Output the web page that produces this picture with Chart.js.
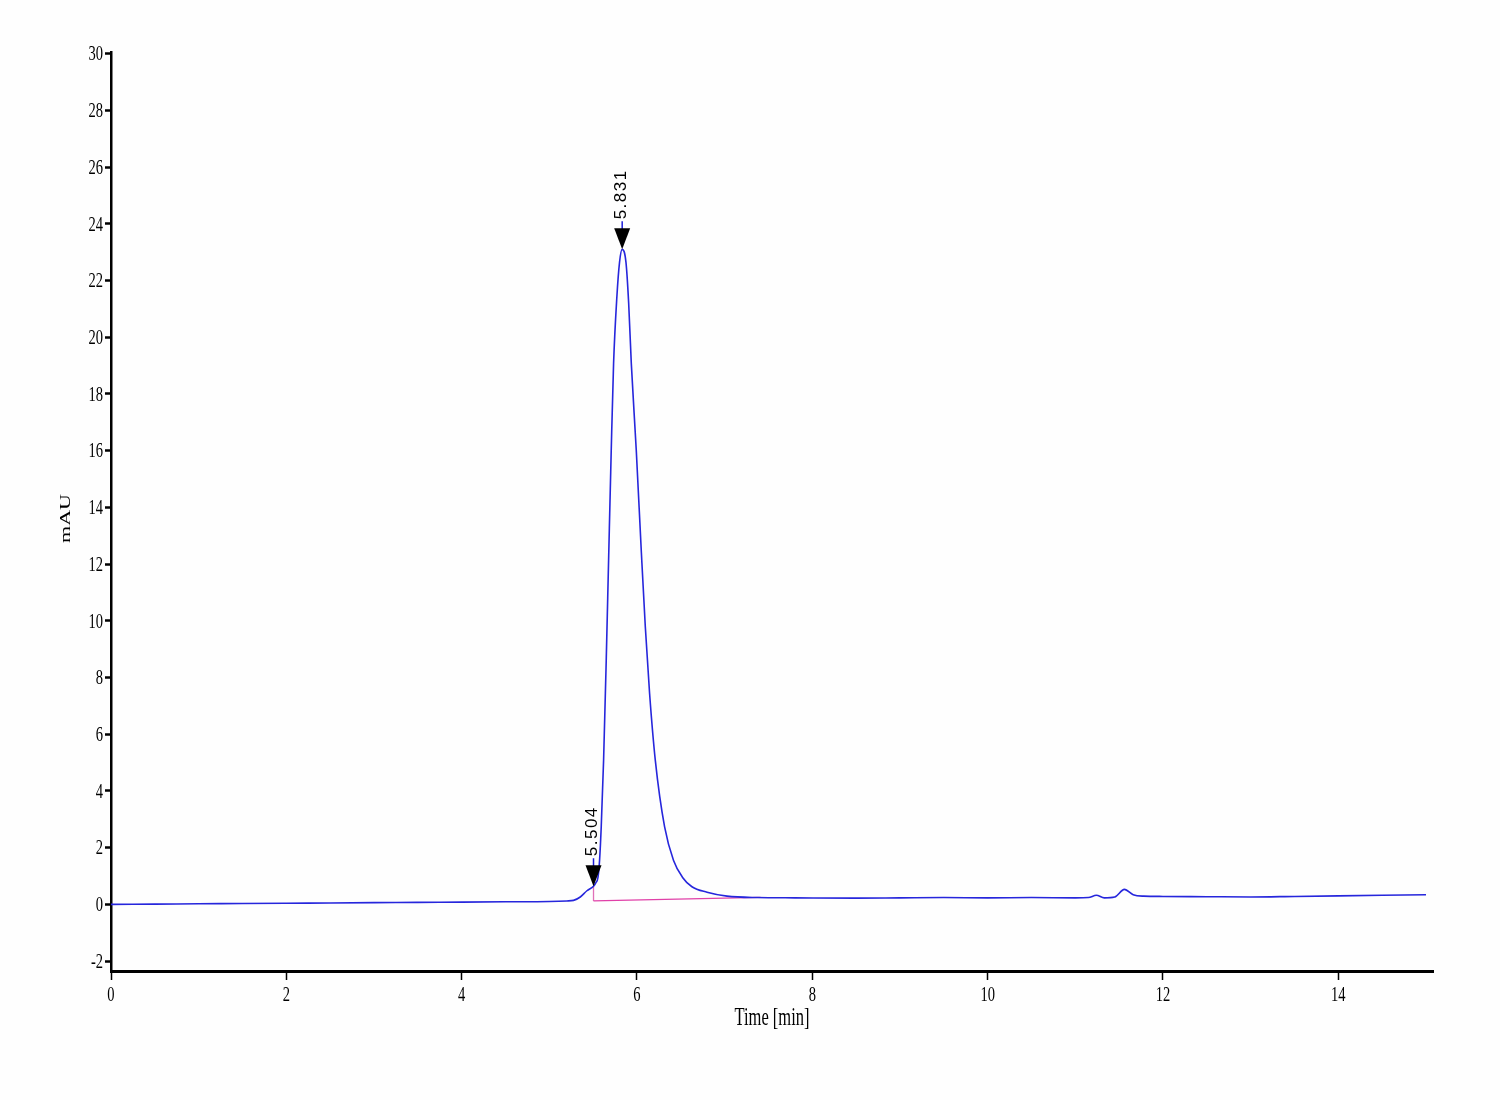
<!DOCTYPE html>
<html><head><meta charset="utf-8">
<script src="https://cdn.jsdelivr.net/npm/chart.js@4.4.1/dist/chart.umd.min.js"></script>
<style>html,body{margin:0;padding:0;background:#fff}#wrap{width:1500px;height:1100px;background:#fefefe}</style>
</head><body><div id="wrap"><canvas id="c" width="1500" height="1100" style="width:1500px;height:1100px"></canvas></div>
<script>
// ---- data ----
const timeMin = [0, 0.5, 1, 1.5, 2, 2.5, 3, 3.5, 4, 4.5, 5.0, 5.2, 5.276, 5.353, 5.429, 5.504, 5.53, 5.555, 5.573, 5.592, 5.619, 5.649, 5.676, 5.706, 5.733, 5.77, 5.801, 5.831, 5.874, 5.905, 5.935, 5.992, 6.05, 6.095, 6.144, 6.209, 6.315, 6.417, 6.52, 6.627, 6.799, 7.027, 7.37, 7.8, 8.5, 9.0, 9.5, 10.0, 10.5, 11.0, 11.15, 11.24, 11.33, 11.45, 11.56, 11.66, 11.78, 12.0, 12.5, 13.0, 13.5, 14.0, 14.5, 15.0];
const signalMAU = [0.00, 0.01, 0.02, 0.03, 0.04, 0.05, 0.06, 0.07, 0.08, 0.09, 0.10, 0.12, 0.14, 0.26, 0.48, 0.64, 0.76, 0.95, 1.55, 2.73, 5.08, 8.6, 12.13, 16.0, 19.08, 21.4, 22.65, 23.1, 22.65, 21.2, 19.08, 16.0, 12.4, 9.78, 7.43, 5.08, 2.73, 1.55, 0.95, 0.62, 0.43, 0.29, 0.24, 0.23, 0.22, 0.23, 0.24, 0.23, 0.24, 0.23, 0.24, 0.32, 0.23, 0.26, 0.53, 0.34, 0.29, 0.28, 0.27, 0.26, 0.28, 0.30, 0.32, 0.34];
const baselineTime = [5.504, 7.41];
const baselineMAU = [0.12, 0.25];
const dropTime = [5.504, 5.504];
const dropMAU = [0.12, 0.64];
const peakTimes = [5.504, 5.831];
const peakHeights = [0.64, 23.1];
const peakLabels = ['5.504', '5.831'];
const xTicks = [0, 2, 4, 6, 8, 10, 12, 14];
const yTicks = [-2, 0, 2, 4, 6, 8, 10, 12, 14, 16, 18, 20, 22, 24, 26, 28, 30];
const xTitle = 'Time [min]';
const yTitle = 'mAU';

const pts = (xs, ys) => xs.map((x, i) => ({x: x, y: ys[i]}));
const SQ = 0.66; // horizontal text squeeze as in reference
const serif = '"Liberation Serif", "Times New Roman", serif';

const annot = {
  id: 'annot',
  afterDraw(chart) {
    const {ctx, scales: {x, y}, chartArea: ca} = chart;
    ctx.save();
    ctx.fillStyle = '#000';
    // y tick labels
    ctx.font = '22px ' + serif;
    ctx.textBaseline = 'middle';
    ctx.textAlign = 'right';
    yTicks.forEach(v => {
      const py = y.getPixelForValue(v);
      ctx.save(); ctx.translate(ca.left - 8, py + 1); ctx.scale(SQ, 1);
      ctx.fillText(String(v), 0, 0); ctx.restore();
    });
    // x tick labels
    ctx.textAlign = 'center';
    xTicks.forEach(v => {
      const px = x.getPixelForValue(v);
      ctx.save(); ctx.translate(px, ca.bottom + 24); ctx.scale(SQ, 1);
      ctx.fillText(String(v), 0, 0); ctx.restore();
    });
    // x title
    ctx.font = '25px ' + serif;
    ctx.save(); ctx.translate((ca.left + ca.right) / 2, ca.bottom + 47); ctx.scale(SQ, 1);
    ctx.fillText(xTitle, 0, 0); ctx.restore();
    // y title
    ctx.font = '22px ' + serif;
    ctx.save(); ctx.translate(ca.left - 45, (ca.top + ca.bottom) / 2 + 7); ctx.scale(SQ, 1); ctx.rotate(-Math.PI / 2);
    ctx.fillText(yTitle, 0, 0); ctx.restore();
    // peak markers
    peakTimes.forEach((t, i) => {
      const px = x.getPixelForValue(t), py = y.getPixelForValue(peakHeights[i]);
      ctx.strokeStyle = '#1c1cd8'; ctx.lineWidth = 1.5;
      ctx.beginPath(); ctx.moveTo(px, py - 20); ctx.lineTo(px, py - 28); ctx.stroke();
      ctx.fillStyle = '#000';
      ctx.beginPath(); ctx.moveTo(px, py); ctx.lineTo(px - 8, py - 21); ctx.lineTo(px + 8, py - 21); ctx.closePath(); ctx.fill();
      ctx.save(); ctx.translate(px - 1, py - 30); ctx.rotate(-Math.PI / 2);
      ctx.font = '17px "Liberation Sans", Arial, sans-serif';
      try { ctx.letterSpacing = '1.5px'; } catch (e) {}
      ctx.textAlign = 'left'; ctx.textBaseline = 'middle';
      ctx.fillText(peakLabels[i], 0, 0); ctx.restore();
    });
    ctx.restore();
  }
};

new Chart(document.getElementById('c'), {
  type: 'line',
  data: {
    datasets: [
      {data: pts(timeMin, signalMAU), borderColor: '#2626dc', borderWidth: 1.6, pointRadius: 0, cubicInterpolationMode: 'monotone', fill: false, order: 0},
      {data: pts(baselineTime, baselineMAU), borderColor: '#e040a8', borderWidth: 1.3, pointRadius: 0, fill: false, order: 1},
      {data: pts(dropTime, dropMAU), borderColor: '#e070b8', borderWidth: 1.3, pointRadius: 0, fill: false, order: 1}
    ]
  },
  options: {
    responsive: false, animation: false, devicePixelRatio: 1,
    layout: {padding: {left: 0, right: 67, top: 52, bottom: 0}},
    plugins: {legend: {display: false}, tooltip: {enabled: false}},
    scales: {
      x: {
        type: 'linear', min: 0, max: 15.08,
        afterBuildTicks: s => { s.ticks = xTicks.map(v => ({value: v})); },
        afterFit: s => { s.height = 129; },
        ticks: {display: false},
        grid: {drawOnChartArea: false, drawTicks: true, tickLength: 9, tickColor: '#000', tickWidth: 1.5},
        border: {display: true, color: '#000', width: 3}
      },
      y: {
        type: 'linear', min: -2.35, max: 30.06,
        afterBuildTicks: s => { s.ticks = yTicks.map(v => ({value: v})); },
        afterFit: s => { s.width = 111; },
        ticks: {display: false},
        grid: {drawOnChartArea: false, drawTicks: true, tickLength: 6, tickColor: '#000', tickWidth: 2.5},
        border: {display: true, color: '#000', width: 2.5}
      }
    }
  },
  plugins: [annot]
});
</script>
</body></html>
